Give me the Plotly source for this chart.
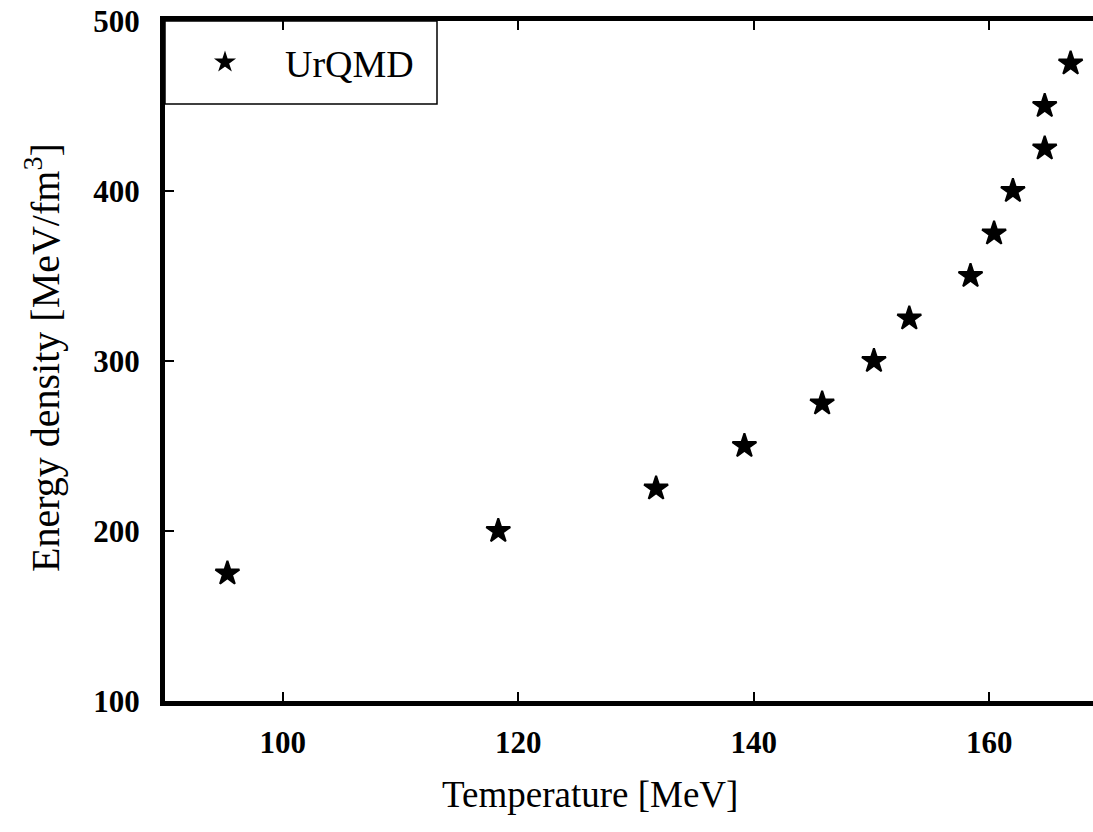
import plotly.graph_objects as go

temperature = [95.3, 118.3, 131.7, 139.2, 145.8, 150.2, 153.2, 158.4, 160.4, 162.0, 164.7, 164.7, 166.9]
energy_density = [175, 200, 225, 250, 275, 300, 325, 350, 375, 400, 425, 450, 475]
series_name = "UrQMD"
x_title = "Temperature [MeV]"
y_title = "Energy density [MeV/fm<sup>3</sup>]"
x_ticks = [100, 120, 140, 160]
y_ticks = [100, 200, 300, 400, 500]

FONT = "Liberation Serif, Times New Roman, serif"

fig = go.Figure()
fig.add_trace(go.Scatter(
    x=temperature, y=energy_density, mode="markers", name=series_name,
    marker=dict(symbol="star", size=18, color="black", line=dict(color="black", width=2)),
    showlegend=True,
))

W, H = 1093, 832
ml, mr, mt, mb = 165, 0, 21, 131
pw = W - ml - mr
ph = H - mt - mb

fig.update_layout(
    width=W, height=H,
    margin=dict(l=ml, r=mr, t=mt, b=mb),
    paper_bgcolor="white", plot_bgcolor="white",
    font=dict(family=FONT, color="black", size=20),
    showlegend=True,
    legend=dict(x=0, y=1 - 10 / ph, xanchor="left", yanchor="top",
                bgcolor="rgba(0,0,0,0)", borderwidth=0,
                font=dict(size=38, family=FONT), itemwidth=110,
                itemsizing="constant"),
)
fig.add_shape(type="rect", xref="paper", yref="paper",
              x0=0, x1=(437 - ml) / pw, y0=1 - (104 - mt) / ph, y1=1,
              line=dict(color="black", width=1.5), fillcolor="white", layer="below")

fig.update_xaxes(
    range=[90, 168.8], tickvals=x_ticks, showgrid=False, zeroline=False,
    showline=True, linecolor="black", linewidth=5, mirror="ticks",
    ticks="inside", ticklen=9, tickwidth=2, tickcolor="black",
    tickfont=dict(size=31, family=FONT, weight="bold"), ticklabelstandoff=10,
)
fig.update_yaxes(
    range=[100, 500], tickvals=y_ticks, showgrid=False, zeroline=False,
    showline=True, linecolor="black", linewidth=5, mirror=False,
    ticks="inside", ticklen=9, tickwidth=2, tickcolor="black",
    tickfont=dict(size=31, family=FONT, weight="bold"), ticklabelstandoff=14,
)

fig.add_annotation(text=x_title, xref="paper", yref="paper",
                   x=(590 - ml) / pw, y=-(794 - mt - ph) / ph, showarrow=False,
                   font=dict(size=37, family=FONT), xanchor="center", yanchor="middle")
fig.add_annotation(text=y_title, xref="paper", yref="paper",
                   x=-(ml - 42) / pw, y=1 - (358 - mt) / ph, showarrow=False, textangle=-90,
                   font=dict(size=40, family=FONT), xanchor="center", yanchor="middle")

fig.write_html("out.html")
